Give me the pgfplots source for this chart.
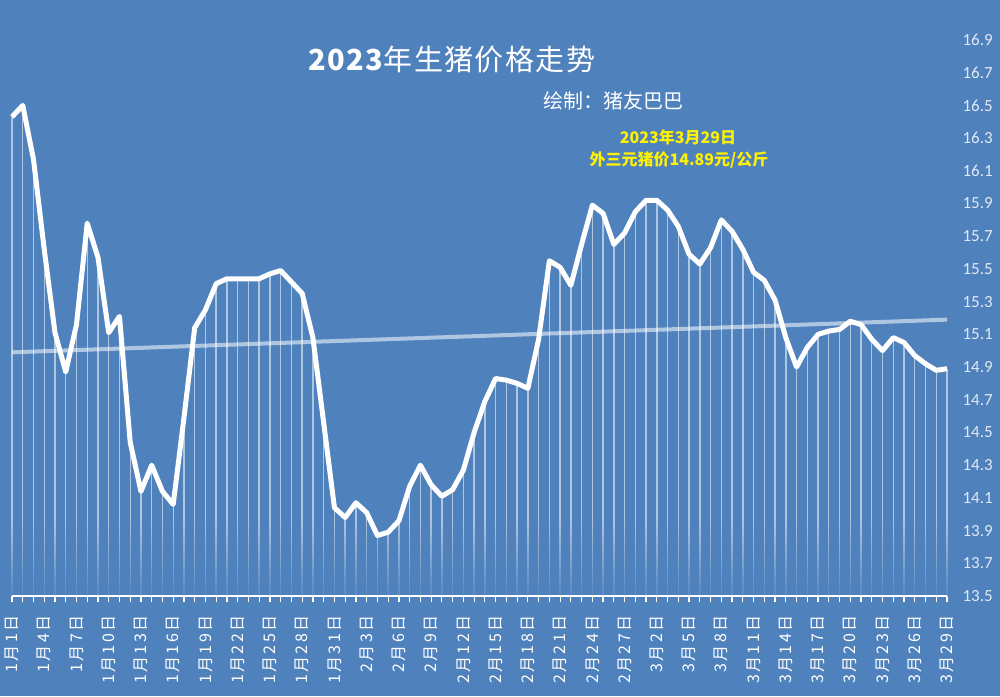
\documentclass[border=0pt]{standalone}
\usepackage{fontspec}
\setmainfont{Carlito}
\newfontfamily\cjk{Noto Sans CJK SC}
\newfontfamily\cjkls{Noto Sans CJK SC}[LetterSpace=15]
\newfontfamily\cjktitle{Noto Sans CJK SC}[LetterSpace=5]
\usepackage{pgfplots}
\pgfplotsset{compat=1.18}
\usepackage{pgfplotstable}
\usetikzlibrary{fadings}
\definecolor{bg}{RGB}{79,129,189}
\definecolor{ylab}{RGB}{225,233,243}
\tikzfading[name=fadeup, bottom color=transparent!0, top color=transparent!100]

\pgfplotstableread{
x y
0 16.43
1 16.50
2 16.17
3 15.62
4 15.11
5 14.87
6 15.16
7 15.78
8 15.57
9 15.11
10 15.21
11 14.44
12 14.14
13 14.30
14 14.14
15 14.06
16 14.59
17 15.14
18 15.25
19 15.41
20 15.44
21 15.44
22 15.44
23 15.44
24 15.47
25 15.49
26 15.42
27 15.35
28 15.08
29 14.56
30 14.04
31 13.98
32 14.07
33 14.01
34 13.87
35 13.89
36 13.96
37 14.17
38 14.30
39 14.18
40 14.11
41 14.15
42 14.27
43 14.50
44 14.69
45 14.83
46 14.82
47 14.80
48 14.77
49 15.07
50 15.55
51 15.51
52 15.40
53 15.65
54 15.89
55 15.84
56 15.65
57 15.72
58 15.85
59 15.92
60 15.92
61 15.86
62 15.76
63 15.59
64 15.53
65 15.63
66 15.80
67 15.73
68 15.62
69 15.48
70 15.43
71 15.31
72 15.08
73 14.90
74 15.02
75 15.10
76 15.12
77 15.13
78 15.18
79 15.16
80 15.07
81 15.00
82 15.08
83 15.05
84 14.97
85 14.92
86 14.88
87 14.89
}\pricedata

\begin{document}
\begin{tikzpicture}[x=1pt,y=1pt]
\fill[bg] (0,0) rectangle (1000,696);
\begin{axis}[
  at={(12pt,100pt)}, anchor=south west, scale only axis,
  width=935pt, height=556pt,
  xmin=0, xmax=87, ymin=13.5, ymax=16.9,
  clip=false, axis on top,
  axis x line*=bottom, axis y line*=right,
  x axis line style={-, white, line width=1.5pt},
  y axis line style={draw=none},
  ytick={13.5,13.7,13.9,14.1,14.3,14.5,14.7,14.9,15.1,15.3,15.5,15.7,15.9,16.1,16.3,16.5,16.7,16.9},
  ytick style={draw=none},
  yticklabel pos=right,
  yticklabel style={font=\fontsize{17}{17}\selectfont, text=ylab, anchor=west, xshift=6pt},
  /pgf/number format/.cd, fixed, fixed zerofill, precision=1, assume math mode=true,
  /pgfplots/.cd,
  xtick={0,3,...,87},
  minor xtick={0,1,...,87},
  tick align=outside,
  major tick length=6pt, minor tick length=6pt,
  xtick style={white, line width=1.2pt},
  minor x tick style={white, line width=1.2pt},
  xticklabels={1月1日,1月4日,1月7日,1月10日,1月13日,1月16日,1月19日,1月22日,1月25日,1月28日,1月31日,2月3日,2月6日,2月9日,2月12日,2月15日,2月18日,2月21日,2月24日,2月27日,3月2日,3月5日,3月8日,3月11日,3月14日,3月17日,3月20日,3月23日,3月26日,3月29日},
  xticklabel shift=10pt,
  xticklabel style={rotate=90, anchor=east, font=\cjkls\fontsize{16}{16}\selectfont, text=white},
]
\addplot[draw=none, mark=none,
  error bars/.cd, y dir=minus, y explicit, error mark=none,
  error bar style={white, opacity=0.55, line width=1.4pt}]
  table[x=x, y=y, y error expr={\thisrow{y}-13.5}] {\pricedata};
\fill[bg, path fading=fadeup, fill opacity=0.9] (axis cs:-0.5,13.5) rectangle (axis cs:87.5,13.97);
\addplot[white, opacity=0.55, line width=4pt, mark=none] coordinates {(0,14.99) (87,15.19)};
\addplot[white, line width=5pt, line join=round, mark=none] table[x=x, y=y] {\pricedata};
\end{axis}
\node[white, font=\cjktitle\fontsize{29}{29}\selectfont] at (452,636) {{\bfseries 2023}年生猪价格走势};
\node[white, font=\cjk\fontsize{20}{20}\selectfont] at (613,595) {绘制：猪友巴巴};
\node[yellow, font=\cjk\bfseries\fontsize{16}{16}\selectfont] at (678,559) {2023年3月29日};
\node[yellow, font=\cjk\bfseries\fontsize{16}{16}\selectfont] at (679,536) {外三元猪价14.89元/公斤};
\pgfresetboundingbox
\useasboundingbox (0,0) rectangle (1000,696);
\end{tikzpicture}
\end{document}
